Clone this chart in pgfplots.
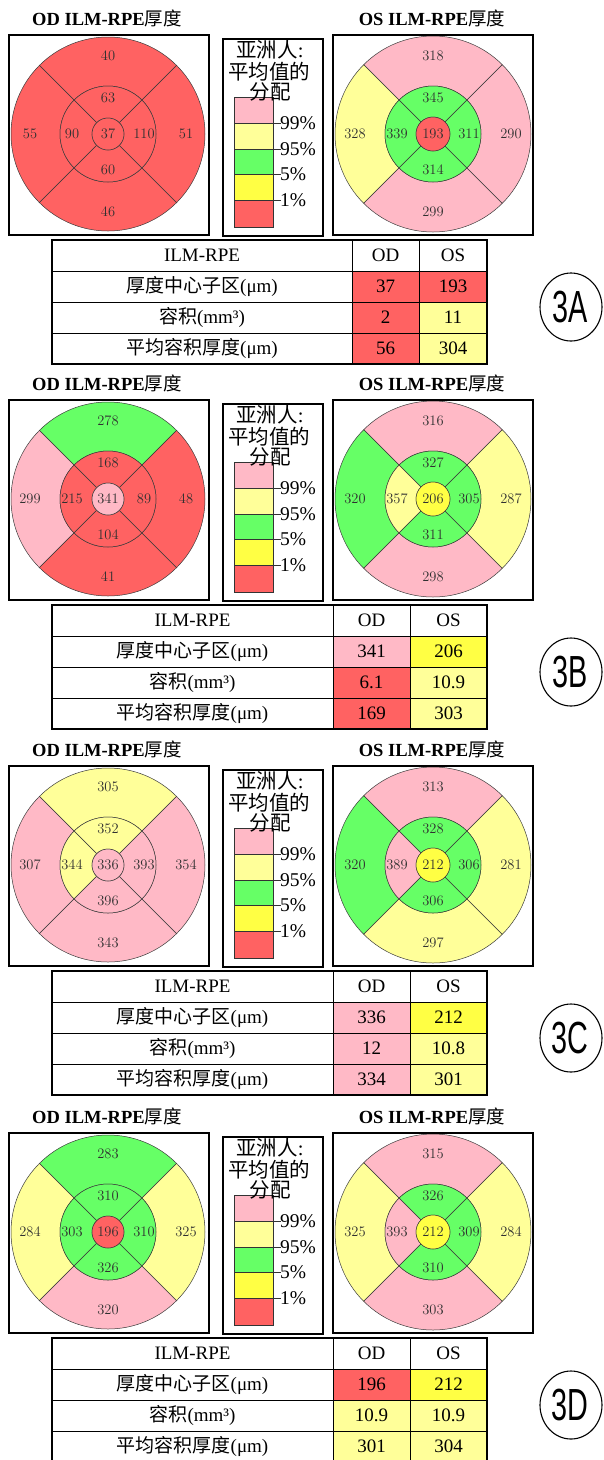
\documentclass[border=0pt]{standalone}
\usepackage{fontspec}
\usepackage{graphicx}
\usepackage{pgfplots}
\pgfplotsset{compat=1.18}
\newfontfamily\tnr{Liberation Serif}
\newfontfamily\cjk{Noto Sans CJK SC}
\newfontfamily\lsans{Liberation Sans}
\definecolor{cred}{HTML}{FF6262}
\definecolor{cpink}{HTML}{FFB9C6}
\definecolor{cly}{HTML}{FFFF99}
\definecolor{cgreen}{HTML}{66FF66}
\definecolor{cyel}{HTML}{FFFF44}
\definecolor{mapline}{HTML}{3A3A3A}
\definecolor{numcol}{HTML}{303030}

% sector: cx cy a b rin rout color (axis y reversed, radii in pt = axis units)
\newcommand{\sect}[7]{%
  \filldraw[fill=#7, draw=mapline, line width=0.5pt]
    (axis cs:{#1+#6*cos(#3)},{#2-#6*sin(#3)}) arc[start angle=#3, end angle=#4, radius=#6pt]
    -- (axis cs:{#1+#5*cos(#4)},{#2-#5*sin(#4)}) arc[start angle=#4, end angle=#3, radius=#5pt] -- cycle;}
% ring: cx cy rin rout top left bottom right
\newcommand{\ring}[8]{%
  \sect{#1}{#2}{45}{135}{#3}{#4}{#5}%
  \sect{#1}{#2}{135}{225}{#3}{#4}{#6}%
  \sect{#1}{#2}{225}{315}{#3}{#4}{#7}%
  \sect{#1}{#2}{-45}{45}{#3}{#4}{#8}}
\newcommand{\disk}[4]{%
  \filldraw[fill=#4, draw=mapline, line width=0.5pt] (axis cs:#1,#2) circle[radius=#3pt];}
\newcommand{\cell}[5]{\fill[#5] (axis cs:#1,#2) rectangle (axis cs:#3,#4);}
\newcommand{\ltick}[3]{%
  \draw[line width=0.9pt, draw=black!80] (axis cs:234,{#1+#2}) -- (axis cs:281,{#1+#2});
  \node[anchor=west, inner sep=0pt, font=\tnr\fontsize{19.5}{20}\selectfont] at (axis cs:280,{#1+#2}) {#3};}
% common panel parts: offset
\newcommand{\common}[1]{%
  \draw[line width=1.1pt] (axis cs:9,{#1+35}) rectangle (axis cs:209,{#1+235});
  \draw[line width=1.1pt] (axis cs:333,{#1+35}) rectangle (axis cs:533,{#1+235});
  \node[font=\tnr\bfseries\fontsize{18.5}{20}\selectfont] at (axis cs:107,{#1+18}) {OD ILM-RPE{\cjk\mdseries 厚度}};
  \node[font=\tnr\bfseries\fontsize{18.5}{20}\selectfont] at (axis cs:432,{#1+18}) {OS ILM-RPE{\cjk\mdseries 厚度}};
  \draw[line width=1.1pt] (axis cs:223,{#1+39}) rectangle (axis cs:323,{#1+236});
  \fill[cpink] (axis cs:234,{#1+97}) rectangle (axis cs:273,{#1+123});
  \fill[cly] (axis cs:234,{#1+123}) rectangle (axis cs:273,{#1+149});
  \fill[cgreen] (axis cs:234,{#1+149}) rectangle (axis cs:273,{#1+174});
  \fill[cyel] (axis cs:234,{#1+174}) rectangle (axis cs:273,{#1+200});
  \fill[cred] (axis cs:234,{#1+200}) rectangle (axis cs:273,{#1+227});
  \draw[line width=0.9pt, draw=black!80] (axis cs:234,{#1+97}) rectangle (axis cs:273,{#1+227});
  \ltick{#1}{123}{99\%}
  \ltick{#1}{149}{95\%}
  \ltick{#1}{174}{5\%}
  \ltick{#1}{200}{1\%}
  \node[font=\cjk\fontsize{20.5}{20}\selectfont, inner sep=0pt] at (axis cs:270,{#1+50}) {亚洲人{\tnr :}};
  \node[font=\cjk\fontsize{20.5}{20}\selectfont, inner sep=0pt] at (axis cs:269,{#1+72}) {平均值的};
  \node[font=\cjk\fontsize{20.5}{20}\selectfont, inner sep=0pt] at (axis cs:270,{#1+92}) {分配};
}
% table grid: top, c1, c2
\newcommand{\tbl}[3]{%
  \draw[line width=0.9pt] (axis cs:52,{#1+31}) -- (axis cs:487,{#1+31});
  \draw[line width=0.9pt] (axis cs:52,{#1+62}) -- (axis cs:487,{#1+62});
  \draw[line width=0.9pt] (axis cs:52,{#1+93}) -- (axis cs:487,{#1+93});
  \draw[line width=0.9pt] (axis cs:#2,#1) -- (axis cs:#2,{#1+124});
  \draw[line width=0.9pt] (axis cs:#3,#1) -- (axis cs:#3,{#1+124});
  \draw[line width=1.1pt] (axis cs:52,#1) rectangle (axis cs:487,{#1+124});
  \node[font=\tnr\fontsize{19}{20}\selectfont] at (axis cs:{(52+#2)/2},{#1+15.5}) {ILM-RPE};
  \node[font=\tnr\fontsize{19}{20}\selectfont] at (axis cs:{(#2+#3)/2},{#1+15.5}) {OD};
  \node[font=\tnr\fontsize{19}{20}\selectfont] at (axis cs:{(#3+487)/2},{#1+15.5}) {OS};
  \node[font=\tnr\fontsize{19}{20}\selectfont] at (axis cs:{(52+#2)/2},{#1+46.5}) {{\cjk 厚度中心子区}(μm)};
  \node[font=\tnr\fontsize{19}{20}\selectfont] at (axis cs:{(52+#2)/2},{#1+77.5}) {{\cjk 容积}(mm³)};
  \node[font=\tnr\fontsize{19}{20}\selectfont] at (axis cs:{(52+#2)/2},{#1+108.5}) {{\cjk 平均容积厚度}(μm)};
}
\newcommand{\plabel}[2]{%
  \draw[line width=1.1pt] (axis cs:571,#1) ellipse[x radius=31pt, y radius=34pt];
  \node[inner sep=0pt] at (axis cs:570,#1) {\scalebox{0.64}[1]{\lsans\fontsize{45}{45}\selectfont #2}};
}
\pgfplotsset{
  maplab/.style={draw=none, mark=none, nodes near coords, point meta=explicit symbolic,
    nodes near coords style={anchor=center, inner sep=0pt, text=numcol, font=\fontsize{14.5}{14}\selectfont}},
  tablab/.style={draw=none, mark=none, nodes near coords, point meta=explicit symbolic,
    nodes near coords style={anchor=center, inner sep=0pt, text=black, font=\tnr\fontsize{19}{20}\selectfont}},
}

\begin{document}
\begin{tikzpicture}
\useasboundingbox (0,0) rectangle (603pt,1460pt);
\begin{axis}[at={(0,0)}, anchor=south west, x=1pt, y=1pt,
  xmin=0, xmax=603, ymin=0, ymax=1460, y dir=reverse, hide axis, clip=false]

% ================= 3A (offset 0) =================
\ring{108}{134}{48}{97}{cred}{cred}{cred}{cred}
\ring{108}{134}{16}{48}{cred}{cred}{cred}{cred}
\disk{108}{134}{16}{cred}
\ring{433}{134}{48}{98}{cpink}{cly}{cpink}{cpink}
\ring{433}{134}{17}{48}{cgreen}{cgreen}{cgreen}{cgreen}
\disk{433}{134}{17}{cred}
\common{0}
\cell{352}{271}{419}{302}{cred}\cell{419}{271}{487}{302}{cred}
\cell{352}{302}{419}{333}{cred}\cell{419}{302}{487}{333}{cly}
\cell{352}{333}{419}{364}{cred}\cell{419}{333}{487}{364}{cly}
\tbl{240}{352}{419}
\plabel{307}{3A}
\addplot[maplab] table[meta=v] {
x y v
108 134 37
108 98 63
72 134 90
108 170 60
144 134 110
108 56 40
30 134 55
108 212 46
186 134 51
433 134 193
433 98 345
397 134 339
433 170 314
469 134 311
433 56 318
355 134 328
433 212 299
511 134 290
};
\addplot[tablab] table[meta=v] {
x y v
385.5 286.5 37
453 286.5 193
385.5 317.5 2
453 317.5 11
385.5 348.5 56
453 348.5 304
};

% ================= 3B (offset 365) =================
\ring{108}{499}{48}{97}{cgreen}{cpink}{cred}{cred}
\ring{108}{499}{16}{48}{cred}{cred}{cred}{cred}
\disk{108}{499}{16}{cpink}
\ring{433}{499}{48}{98}{cpink}{cgreen}{cpink}{cly}
\ring{433}{499}{17}{48}{cgreen}{cly}{cgreen}{cgreen}
\disk{433}{499}{17}{cyel}
\common{365}
\cell{333}{636}{410}{667}{cpink}\cell{410}{636}{487}{667}{cyel}
\cell{333}{667}{410}{698}{cred}\cell{410}{667}{487}{698}{cly}
\cell{333}{698}{410}{729}{cred}\cell{410}{698}{487}{729}{cly}
\tbl{605}{333}{410}
\plabel{672}{3B}
\addplot[maplab] table[meta=v] {
x y v
108 499 341
108 463 168
72 499 215
108 535 104
144 499 89
108 421 278
30 499 299
108 577 41
186 499 48
433 499 206
433 463 327
397 499 357
433 535 311
469 499 305
433 421 316
355 499 320
433 577 298
511 499 287
};
\addplot[tablab] table[meta=v] {
x y v
371.5 651.5 341
448.5 651.5 206
371.5 682.5 6.1
448.5 682.5 10.9
371.5 713.5 169
448.5 713.5 303
};

% ================= 3C (offset 731) =================
\ring{108}{865}{48}{97}{cly}{cpink}{cpink}{cpink}
\ring{108}{865}{16}{48}{cly}{cly}{cpink}{cpink}
\disk{108}{865}{16}{cpink}
\ring{433}{865}{48}{98}{cpink}{cgreen}{cly}{cly}
\ring{433}{865}{17}{48}{cgreen}{cpink}{cgreen}{cgreen}
\disk{433}{865}{17}{cyel}
\common{731}
\cell{333}{1002}{410}{1033}{cpink}\cell{410}{1002}{487}{1033}{cyel}
\cell{333}{1033}{410}{1064}{cpink}\cell{410}{1033}{487}{1064}{cly}
\cell{333}{1064}{410}{1095}{cpink}\cell{410}{1064}{487}{1095}{cly}
\tbl{971}{333}{410}
\plabel{1038}{3C}
\addplot[maplab] table[meta=v] {
x y v
108 865 336
108 829 352
72 865 344
108 901 396
144 865 393
108 787 305
30 865 307
108 943 343
186 865 354
433 865 212
433 829 328
397 865 389
433 901 306
469 865 306
433 787 313
355 865 320
433 943 297
511 865 281
};
\addplot[tablab] table[meta=v] {
x y v
371.5 1017.5 336
448.5 1017.5 212
371.5 1048.5 12
448.5 1048.5 10.8
371.5 1079.5 334
448.5 1079.5 301
};

% ================= 3D (offset 1098) =================
\ring{108}{1232}{48}{97}{cgreen}{cly}{cpink}{cly}
\ring{108}{1232}{16}{48}{cgreen}{cgreen}{cgreen}{cgreen}
\disk{108}{1232}{16}{cred}
\ring{433}{1232}{48}{98}{cpink}{cly}{cpink}{cly}
\ring{433}{1232}{17}{48}{cgreen}{cpink}{cgreen}{cgreen}
\disk{433}{1232}{17}{cyel}
\common{1098}
\cell{333}{1369}{410}{1400}{cred}\cell{410}{1369}{487}{1400}{cyel}
\cell{333}{1400}{410}{1431}{cly}\cell{410}{1400}{487}{1431}{cly}
\cell{333}{1431}{410}{1462}{cly}\cell{410}{1431}{487}{1462}{cly}
\tbl{1338}{333}{410}
\plabel{1405}{3D}
\addplot[maplab] table[meta=v] {
x y v
108 1232 196
108 1196 310
72 1232 303
108 1268 326
144 1232 310
108 1154 283
30 1232 284
108 1310 320
186 1232 325
433 1232 212
433 1196 326
397 1232 393
433 1268 310
469 1232 309
433 1154 315
355 1232 325
433 1310 303
511 1232 284
};
\addplot[tablab] table[meta=v] {
x y v
371.5 1384.5 196
448.5 1384.5 212
371.5 1415.5 10.9
448.5 1415.5 10.9
371.5 1446.5 301
448.5 1446.5 304
};
\end{axis}
\end{tikzpicture}
\end{document}
